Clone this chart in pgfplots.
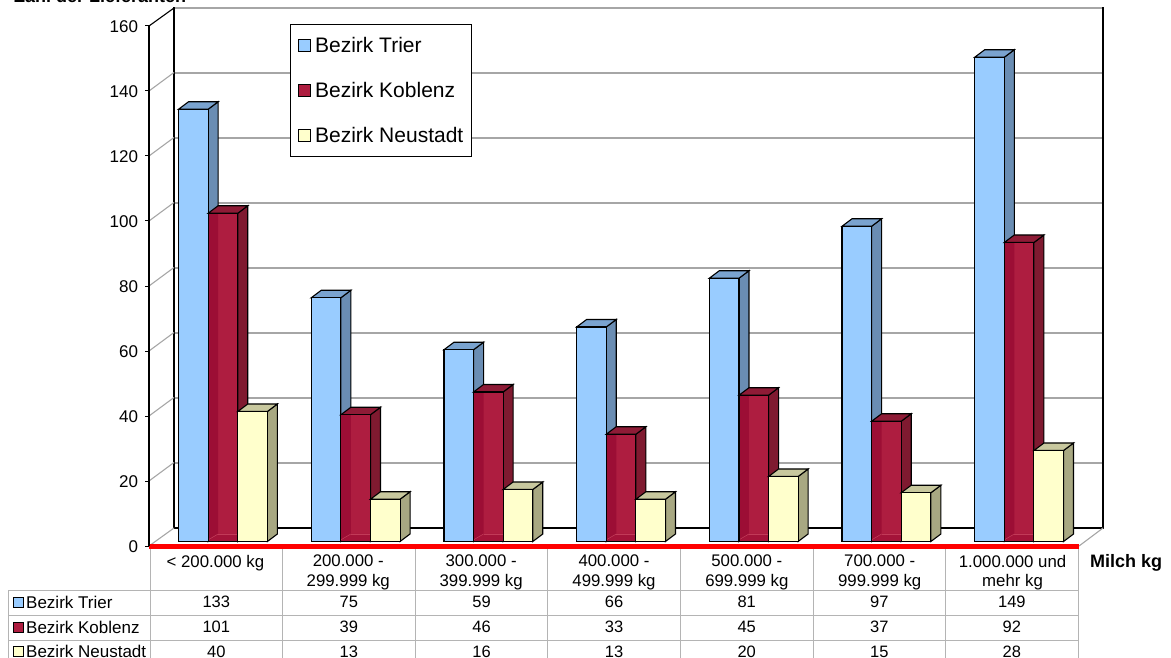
\documentclass[border=0pt]{standalone}
\usepackage{fontspec}
\setmainfont{Liberation Sans}
\usepackage{pgfplots}
\usepackage{pgfplotstable}
\pgfplotsset{compat=1.18}
\definecolor{tF}{HTML}{99CCFF}\definecolor{tS}{HTML}{6A8DB3}\definecolor{tT}{HTML}{7AA3CF}
\definecolor{kF}{HTML}{AE1D40}\definecolor{kS}{HTML}{7F1A30}\definecolor{kT}{HTML}{8E1B36}
\definecolor{kL}{HTML}{9C0E35}\definecolor{kB}{HTML}{A41339}\definecolor{kE}{HTML}{C23A58}
\definecolor{nF}{HTML}{FFFFCC}\definecolor{nS}{HTML}{A8A882}\definecolor{nT}{HTML}{C8C89E}
\definecolor{gridc}{HTML}{A6A6A6}
\definecolor{tabc}{HTML}{B4B4B4}
\pgfplotstableread{
x trier koblenz neustadt
0 133 101 40
1 75 39 13
2 59 46 16
3 66 33 13
4 81 45 20
5 97 37 15
6 149 92 28
}\data
\newcommand\fs[1]{\fontsize{#1pt}{19.5pt}\selectfont}
% side and top faces of one series; #2 = offset of the bar's right edge from the group's centre
\newcommand\DepthFaces[4]{%
  \pgfplotsforeachungrouped \i in {0,...,6}{%
    \pgfplotstablegetelem{\i}{#1}\of\data
    \pgfmathsetmacro\vv{\pgfplotsretval}%
    \pgfmathsetmacro\vt{\vv+2.31}%
    \pgfmathsetmacro\rr{\i+#2}%
    \pgfmathsetmacro\ll{\rr-0.2231}%
    \pgfmathsetmacro\rd{\rr+0.0754}%
    \pgfmathsetmacro\ld{\ll+0.0754}%
    \edef\cmd{\noexpand\addplot[forget plot,draw=black,line width=1.1pt,fill=#3] coordinates {(\rr,0) (\rd,2.31) (\rd,\vt) (\rr,\vv)} --cycle;
      \noexpand\addplot[forget plot,draw=black,line width=1.1pt,fill=#4] coordinates {(\ll,\vv) (\ld,\vt) (\rd,\vt) (\rr,\vv)} --cycle;}%
    \cmd
  }%
}
% the see-through look of the red bars: inner left strip and floor band
\newcommand\RedInner{%
  \pgfplotsforeachungrouped \i in {0,...,6}{%
    \pgfplotstablegetelem{\i}{koblenz}\of\data
    \pgfmathsetmacro\vv{\pgfplotsretval}%
    \pgfmathsetmacro\rr{\i+0.11155}%
    \pgfmathsetmacro\ll{\rr-0.2231}%
    \pgfmathsetmacro\ld{\ll+0.0754}%
    \edef\cmd{\noexpand\addplot[forget plot,draw=none,fill=kB] coordinates {(\ll,0) (\ld,2.31) (\rr,2.31) (\rr,0)} --cycle;
      \noexpand\addplot[forget plot,draw=none,fill=kL] coordinates {(\ll,0) (\ld,2.31) (\ld,\vv) (\ll,\vv)} --cycle;
      \noexpand\addplot[forget plot,draw=kE,line width=0.6pt] coordinates {(\ld,2.31) (\rr,2.31)};
      \noexpand\addplot[forget plot,draw=kE,line width=0.6pt] coordinates {(\ll,0.5) (\ld,2.31)};}%
    \cmd
  }%
}
\begin{document}
\begin{tikzpicture}
\path[use as bounding box] (0,0) rectangle (1171pt,657pt);
\clip (0,0) rectangle (1171pt,657pt);
% back wall
\begin{axis}[name=wall,at={(174pt,129pt)},anchor=south west,scale only axis,width=929pt,height=520pt,
  xmin=0,xmax=7,ymin=0,ymax=160,ytick={0,20,...,160},xtick=\empty,yticklabels={},
  ymajorgrids,grid style={gridc,line width=1.1pt},major tick length=0pt,
  axis line style={black,line width=1.2pt}]
\end{axis}
\begin{scope}[x=1pt,y=-1pt,yshift=657pt]
  \draw[gridc,line width=1.2pt] (174.6,8)--(1102.4,8);
  \foreach \a/\b in {72.5/91,137.5/156,202.5/221,267.5/286,332.5/351,397.5/416,462.5/481}
    {\draw[gridc,line width=1.1pt] (174,\a)--(149,\b);}
  \draw[black,line width=1.1pt] (174,8)--(149,26);
  \draw[gridc,line width=1.1pt] (174,528)--(149,546);
  \draw[gridc,line width=1.1pt] (1103,528)--(1079,546);
\end{scope}
% bars
\begin{axis}[name=bars,at={(0,0)},anchor=south west,scale only axis,width=1171pt,height=657pt,
  axis lines=none,clip=false,
  xmin=-1.6805,xmax=7.1440,ymin=-35.54,ymax=166.61,
  legend cell align=left,
  legend style={at={(290/1171,1-24/657)},anchor=north west,draw=black,line width=1.2pt,
    font=\fs{21},inner xsep=7pt,inner ysep=11pt,
    /tikz/every even column/.append style={column sep=7pt},
    /tikz/every odd column/.append style={column sep=3.5pt},
    nodes={inner xsep=1pt,inner ysep=2pt},row sep=24pt}]
\addlegendimage{legend image code/.code={\draw[fill=tF,line width=1pt] (0pt,-6pt) rectangle (12pt,6pt);}}
\addlegendentry{Bezirk Trier}
\addlegendimage{legend image code/.code={\draw[fill=kF,line width=1pt] (0pt,-6pt) rectangle (12pt,6pt);}}
\addlegendentry{Bezirk Koblenz}
\addlegendimage{legend image code/.code={\draw[fill=nF,line width=1pt] (0pt,-6pt) rectangle (12pt,6pt);}}
\addlegendentry{Bezirk Neustadt}
\DepthFaces{trier}{-0.11155}{tS}{tT}
\addplot[forget plot,ybar,bar width=29.6pt,bar shift=-29.6pt,draw=black,line width=1.1pt,fill=tF] table[x=x,y=trier]{\data};
\DepthFaces{koblenz}{0.11155}{kS}{kT}
\addplot[forget plot,ybar,bar width=29.6pt,bar shift=0pt,draw=none,fill=kF] table[x=x,y=koblenz]{\data};
\RedInner
\addplot[forget plot,ybar,bar width=29.6pt,bar shift=0pt,draw=black,line width=1.1pt,fill=none] table[x=x,y=koblenz]{\data};
\DepthFaces{neustadt}{0.33465}{nS}{nT}
\addplot[forget plot,ybar,bar width=29.6pt,bar shift=29.6pt,draw=black,line width=1.1pt,fill=nF] table[x=x,y=neustadt]{\data};
\end{axis}
% front axes with tick labels
\begin{axis}[name=front,at={(149pt,111pt)},anchor=south west,scale only axis,width=930pt,height=520pt,
  xmin=0,xmax=7,ymin=0,ymax=160,
  axis y line*=left,axis x line*=bottom,
  y axis line style={black,line width=1.2pt,-},
  x axis line style={red,line width=5pt,-},
  ytick={0,20,...,160},
  xtick={0.5,1.5,...,6.5},
  xticklabels={{< 200.000 kg},{200.000 -\\299.999 kg},{300.000 -\\399.999 kg},{400.000 -\\499.999 kg},{500.000 -\\699.999 kg},{700.000 -\\999.999 kg},{1.000.000 und\\mehr kg}},
  xticklabel style={align=center,font=\fs{16.8},yshift=-2pt},
  yticklabel style={font=\fs{17},/pgf/number format/assume math mode=true,xshift=-4pt,yshift=-0.5pt},
  tick style={black,line width=1pt},
  xtick style={draw=none},
  major tick length=3.5pt,
  tick align=outside]
\end{axis}
% table and free texts
\begin{scope}[x=1pt,y=-1pt,yshift=657pt]
  \foreach \a in {590,615,640} {\draw[tabc,line width=1pt] (8,\a)--(1078,\a);}
  \draw[tabc,line width=1pt] (8,590)--(8,660);
  \foreach \a in {150,282.6,415.2,547.8,680.4,813,945.6,1078} {\draw[tabc,line width=1pt] (\a,549)--(\a,660);}
  \foreach \yy/\cc/\nn in {602/tF/Bezirk Trier,627/kF/Bezirk Koblenz,651.5/nF/Bezirk Neustadt}{
    \draw[fill=\cc,line width=1pt] (13,\yy-5) rectangle (23,\yy+5);
    \node[anchor=west,inner sep=0pt,font=\fs{17}] at (26,\yy) {\nn};
  }
  \foreach \xx/\p/\q/\r in {216.3/133/101/40,348.9/75/39/13,481.5/59/46/16,614.1/66/33/13,746.7/81/45/20,879.3/97/37/15,1011.9/149/92/28}{
    \node[font=\fs{16.5},inner sep=0pt] at (\xx,602) {\p};
    \node[font=\fs{16.5},inner sep=0pt] at (\xx,627) {\q};
    \node[font=\fs{16.5},inner sep=0pt] at (\xx,651.5) {\r};
  }
  \node[anchor=base west,inner sep=0pt,font=\bfseries\fs{18}] at (14,3) {Zahl der Lieferanten};
  \node[anchor=base west,inner sep=0pt,font=\bfseries\fs{18}] at (1090,567.5) {Milch kg};
\end{scope}
\end{tikzpicture}
\end{document}
